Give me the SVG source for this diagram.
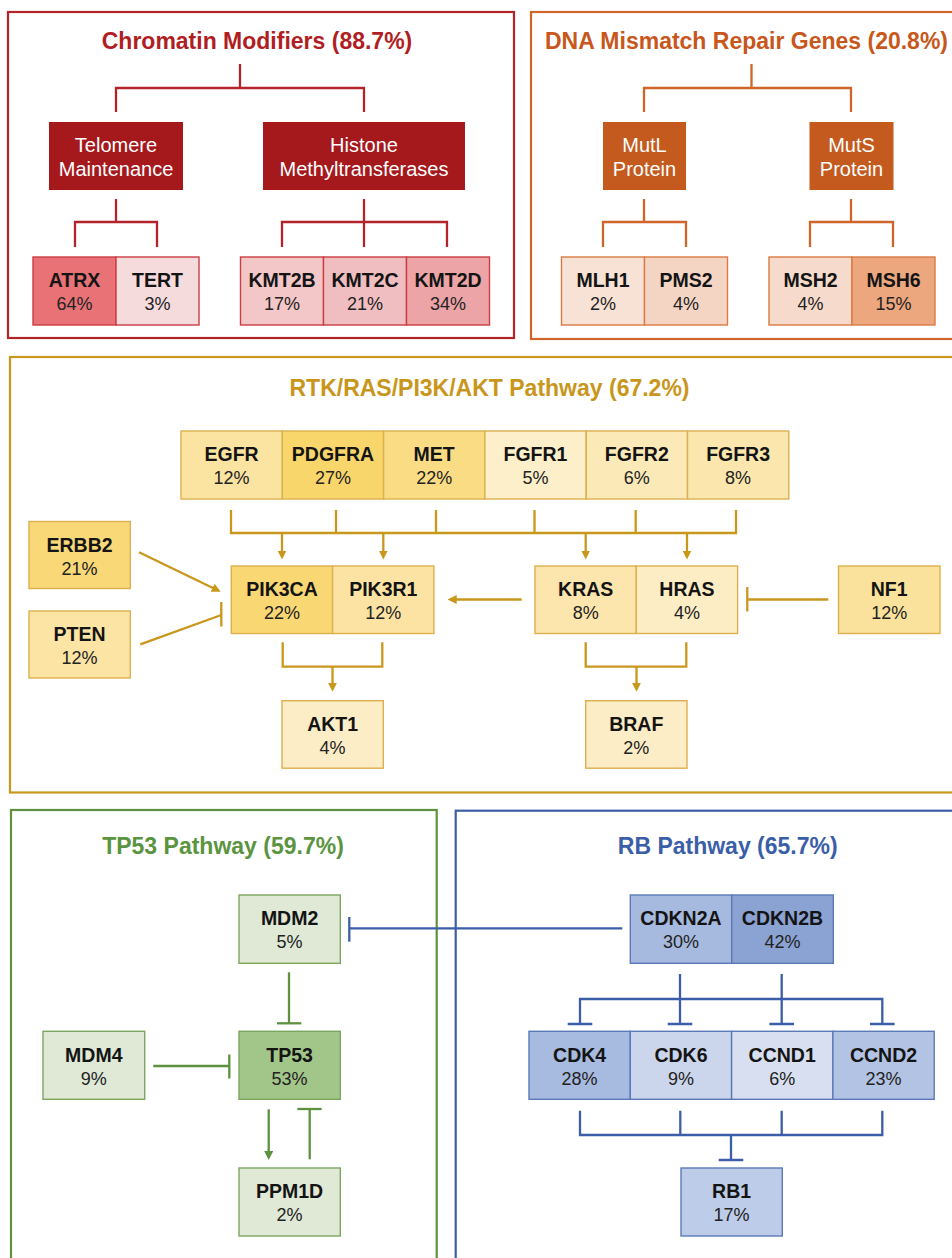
<svg xmlns="http://www.w3.org/2000/svg" width="952" height="1258" viewBox="0 0 952 1258">
<style>
text { font-family: "Liberation Sans", Arial, sans-serif; text-anchor: middle; }
.title { font-size: 23px; font-weight: bold; }
.gn { font-size: 19.5px; font-weight: bold; fill: #141414; }
.pc { font-size: 18px; fill: #222; }
.cat { font-size: 20px; fill: #fff; }
.frame { fill: none; stroke-width: 2.2; }
.bx { stroke-width: 1.4; }
.ln { fill: none; stroke-width: 2.3; }
.red { stroke: #b3232a; }
.org { stroke: #d0652a; }
.gld { stroke: #c9971c; }
.grn { stroke: #5d913f; }
.blu { stroke: #3c5ea8; }
.bred { stroke: #cb3d43; }
.borg { stroke: #da7b42; }
.bgld { stroke: #ddb04e; }
.bgrn { stroke: #7ba65f; }
.bblu { stroke: #5b79b9; }
</style>
<defs>
<marker id="arrGold" markerUnits="userSpaceOnUse" viewBox="0 0 9 9" refX="1" refY="4.5" markerWidth="9" markerHeight="9" orient="auto">
<path d="M0,0 L9,4.5 L0,9 z" fill="#c9971c"/>
</marker>
<marker id="arrGreen" markerUnits="userSpaceOnUse" viewBox="0 0 9 9" refX="1" refY="4.5" markerWidth="9" markerHeight="9" orient="auto">
<path d="M0,0 L9,4.5 L0,9 z" fill="#5d913f"/>
</marker>
</defs>
<rect width="952" height="1258" fill="#fff"/>

<!-- Frames -->
<g id="frames">
<rect class="frame red" x="8" y="12" width="506" height="326"/>
<rect class="frame org" x="531" y="12" width="440" height="327"/>
<rect class="frame gld" x="10" y="357" width="970" height="435.5"/>
<rect class="frame grn" x="11" y="810" width="425.7" height="470"/>
<rect class="frame blu" x="455.7" y="810.7" width="520" height="470"/>
<text class="title" x="257" y="48.5" fill="#b01e23">Chromatin Modifiers (88.7%)</text>
<text class="title" x="746.5" y="48.5" fill="#c8571b">DNA Mismatch Repair Genes (20.8%)</text>
<text class="title" x="489.5" y="396" fill="#c9961c">RTK/RAS/PI3K/AKT Pathway (67.2%)</text>
<text class="title" x="223" y="853.5" fill="#5a9440">TP53 Pathway (59.7%)</text>
<text class="title" x="727.7" y="853.5" fill="#3b5ea8">RB Pathway (65.7%)</text>
</g>

<!-- Connectors -->
<g id="connectors">
<path class="ln red" d="M240,64 V88 M116,112 V88 H364 V112"/>
<path class="ln red" d="M116,199 V222 M75,247 V222 H157 V247"/>
<path class="ln red" d="M364,199 V247 M282,247 V222 H447 V247"/>
<path class="ln org" d="M751.5,64 V88 M644,112 V88 H851 V112"/>
<path class="ln org" d="M644,199 V222 M603,247 V222 H686 V247"/>
<path class="ln org" d="M851,199 V222 M810,247 V222 H893 V247"/>

<path class="ln gld" d="M231,510 V533 H736 V510 M336,510 V533 M436,510 V533 M534.5,510 V533 M635.7,510 V533"/>
<line class="ln gld" x1="282" y1="533" x2="282" y2="551.5" marker-end="url(#arrGold)"/>
<line class="ln gld" x1="383.3" y1="533" x2="383.3" y2="551.5" marker-end="url(#arrGold)"/>
<line class="ln gld" x1="585.7" y1="533" x2="585.7" y2="551.5" marker-end="url(#arrGold)"/>
<line class="ln gld" x1="687" y1="533" x2="687" y2="551.5" marker-end="url(#arrGold)"/>
<line class="ln gld" x1="139" y1="552.3" x2="213.5" y2="588.2" marker-end="url(#arrGold)"/>
<line class="ln gld" x1="140.3" y1="644.3" x2="221.3" y2="615"/>
<line class="ln gld" x1="221.3" y1="602" x2="221.3" y2="626.5"/>
<line class="ln gld" x1="521.7" y1="599.5" x2="455.7" y2="599.5" marker-end="url(#arrGold)"/>
<line class="ln gld" x1="828.3" y1="599.5" x2="747.3" y2="599.5"/>
<line class="ln gld" x1="747.3" y1="587" x2="747.3" y2="611.5"/>
<path class="ln gld" d="M282.7,642.3 V666.7 H382.3 V642.3"/>
<line class="ln gld" x1="332.5" y1="666.7" x2="332.5" y2="683.7" marker-end="url(#arrGold)"/>
<path class="ln gld" d="M585.7,642.3 V666.7 H686.3 V642.3"/>
<line class="ln gld" x1="636.5" y1="666.7" x2="636.5" y2="683.7" marker-end="url(#arrGold)"/>

<line class="ln grn" x1="289" y1="972.3" x2="289" y2="1023.3"/>
<line class="ln grn" x1="277" y1="1023.3" x2="301.3" y2="1023.3"/>
<line class="ln grn" x1="153.3" y1="1066" x2="229.3" y2="1066"/>
<line class="ln grn" x1="229.3" y1="1054.5" x2="229.3" y2="1078.5"/>
<line class="ln grn" x1="268.7" y1="1109.3" x2="268.7" y2="1152" marker-end="url(#arrGreen)"/>
<line class="ln grn" x1="309.7" y1="1159.3" x2="309.7" y2="1109"/>
<line class="ln grn" x1="297.3" y1="1109" x2="321.7" y2="1109"/>

<line class="ln blu" x1="622.3" y1="928.3" x2="349.3" y2="928.3"/>
<line class="ln blu" x1="349.3" y1="917" x2="349.3" y2="941.7"/>
<path class="ln blu" d="M680,974 V1024 M781.7,974 V1024 M580,1024 V999 H882.3 V1024"/>
<path class="ln blu" d="M567.7,1024 H592.3 M667.7,1024 H692.3 M769.4,1024 H794 M870,1024 H894.6"/>
<path class="ln blu" d="M580,1110.7 V1135 H882.3 V1110.7 M680.3,1110.7 V1135 M781.7,1110.7 V1135 M731,1135 V1160 M718.7,1160 H743.3"/>
</g>

<!-- Chromatin modifiers nodes -->
<g id="telomere"><rect x="49" y="122" width="134" height="68" fill="#a5191d"/><text class="cat" x="116" y="152">Telomere</text><text class="cat" x="116" y="176">Maintenance</text></g>
<g id="histone"><rect x="263" y="122" width="202" height="68" fill="#a5191d"/><text class="cat" x="364" y="152">Histone</text><text class="cat" x="364" y="176">Methyltransferases</text></g>
<g id="ATRX"><rect class="bx bred" x="33" y="257" width="83" height="68" fill="#e97277"/><text class="gn" x="74.5" y="287">ATRX</text><text class="pc" x="74.5" y="310">64%</text></g>
<g id="TERT"><rect class="bx bred" x="116" y="257" width="83" height="68" fill="#f6dbdc"/><text class="gn" x="157.5" y="287">TERT</text><text class="pc" x="157.5" y="310">3%</text></g>
<g id="KMT2B"><rect class="bx bred" x="240.5" y="257" width="83" height="68" fill="#f3c6c7"/><text class="gn" x="282" y="287">KMT2B</text><text class="pc" x="282" y="310">17%</text></g>
<g id="KMT2C"><rect class="bx bred" x="323.5" y="257" width="83" height="68" fill="#f0bec0"/><text class="gn" x="365" y="287">KMT2C</text><text class="pc" x="365" y="310">21%</text></g>
<g id="KMT2D"><rect class="bx bred" x="406.5" y="257" width="83" height="68" fill="#eca4a7"/><text class="gn" x="448" y="287">KMT2D</text><text class="pc" x="448" y="310">34%</text></g>

<!-- DNA mismatch repair nodes -->
<g id="mutl"><rect x="603" y="122" width="83" height="68" fill="#c45a1d"/><text class="cat" x="644.5" y="152">MutL</text><text class="cat" x="644.5" y="176">Protein</text></g>
<g id="muts"><rect x="809.5" y="122" width="84" height="68" fill="#c45a1d"/><text class="cat" x="851.5" y="152">MutS</text><text class="cat" x="851.5" y="176">Protein</text></g>
<g id="MLH1"><rect class="bx borg" x="561.5" y="257" width="83" height="68" fill="#f8e2d5"/><text class="gn" x="603" y="287">MLH1</text><text class="pc" x="603" y="310">2%</text></g>
<g id="PMS2"><rect class="bx borg" x="644.5" y="257" width="83" height="68" fill="#f4d5c4"/><text class="gn" x="686" y="287">PMS2</text><text class="pc" x="686" y="310">4%</text></g>
<g id="MSH2"><rect class="bx borg" x="769" y="257" width="83" height="68" fill="#f6dbcc"/><text class="gn" x="810.5" y="287">MSH2</text><text class="pc" x="810.5" y="310">4%</text></g>
<g id="MSH6"><rect class="bx borg" x="852" y="257" width="83" height="68" fill="#eca77e"/><text class="gn" x="893.5" y="287">MSH6</text><text class="pc" x="893.5" y="310">15%</text></g>

<!-- RTK nodes -->
<g id="EGFR"><rect class="bx bgld" x="181" y="431" width="101.3" height="68" fill="#fbe3a1"/><text class="gn" x="231.6" y="461">EGFR</text><text class="pc" x="231.6" y="484">12%</text></g>
<g id="PDGFRA"><rect class="bx bgld" x="282.3" y="431" width="101.3" height="68" fill="#f9d66b"/><text class="gn" x="333" y="461">PDGFRA</text><text class="pc" x="333" y="484">27%</text></g>
<g id="MET"><rect class="bx bgld" x="383.6" y="431" width="101.3" height="68" fill="#fadc84"/><text class="gn" x="434.2" y="461">MET</text><text class="pc" x="434.2" y="484">22%</text></g>
<g id="FGFR1"><rect class="bx bgld" x="484.9" y="431" width="101.3" height="68" fill="#fdefc9"/><text class="gn" x="535.5" y="461">FGFR1</text><text class="pc" x="535.5" y="484">5%</text></g>
<g id="FGFR2"><rect class="bx bgld" x="586.2" y="431" width="101.3" height="68" fill="#fce9b8"/><text class="gn" x="636.8" y="461">FGFR2</text><text class="pc" x="636.8" y="484">6%</text></g>
<g id="FGFR3"><rect class="bx bgld" x="687.5" y="431" width="101.3" height="68" fill="#fbe6ae"/><text class="gn" x="738.1" y="461">FGFR3</text><text class="pc" x="738.1" y="484">8%</text></g>
<g id="ERBB2"><rect class="bx bgld" x="29" y="521.5" width="101.3" height="67" fill="#f9d878"/><text class="gn" x="79.6" y="551.5">ERBB2</text><text class="pc" x="79.6" y="574.5">21%</text></g>
<g id="PTEN"><rect class="bx bgld" x="29" y="611" width="101.3" height="67" fill="#fce4a4"/><text class="gn" x="79.6" y="641">PTEN</text><text class="pc" x="79.6" y="664">12%</text></g>
<g id="PIK3CA"><rect class="bx bgld" x="231.3" y="566" width="101.3" height="67.5" fill="#f9d773"/><text class="gn" x="282" y="596">PIK3CA</text><text class="pc" x="282" y="619">22%</text></g>
<g id="PIK3R1"><rect class="bx bgld" x="332.6" y="566" width="101.3" height="67.5" fill="#fce3a3"/><text class="gn" x="383.3" y="596">PIK3R1</text><text class="pc" x="383.3" y="619">12%</text></g>
<g id="KRAS"><rect class="bx bgld" x="535" y="566" width="101.3" height="67.5" fill="#fce6ae"/><text class="gn" x="585.7" y="596">KRAS</text><text class="pc" x="585.7" y="619">8%</text></g>
<g id="HRAS"><rect class="bx bgld" x="636.3" y="566" width="101.3" height="67.5" fill="#fdedc5"/><text class="gn" x="687" y="596">HRAS</text><text class="pc" x="687" y="619">4%</text></g>
<g id="NF1"><rect class="bx bgld" x="838.5" y="566" width="101.5" height="67.5" fill="#fae29c"/><text class="gn" x="889.2" y="596">NF1</text><text class="pc" x="889.2" y="619">12%</text></g>
<g id="AKT1"><rect class="bx bgld" x="282" y="700.7" width="101.3" height="67.5" fill="#fdedc6"/><text class="gn" x="332.6" y="730.7">AKT1</text><text class="pc" x="332.6" y="753.7">4%</text></g>
<g id="BRAF"><rect class="bx bgld" x="585.7" y="700.7" width="101.3" height="67.5" fill="#fdedc6"/><text class="gn" x="636.3" y="730.7">BRAF</text><text class="pc" x="636.3" y="753.7">2%</text></g>

<!-- TP53 nodes -->
<g id="MDM2"><rect class="bx bgrn" x="239" y="895" width="101.3" height="68.3" fill="#dfe9d6"/><text class="gn" x="289.6" y="925">MDM2</text><text class="pc" x="289.6" y="948">5%</text></g>
<g id="MDM4"><rect class="bx bgrn" x="43" y="1031.3" width="101.7" height="68" fill="#dfe9d6"/><text class="gn" x="93.8" y="1061.5">MDM4</text><text class="pc" x="93.8" y="1084.5">9%</text></g>
<g id="TP53"><rect class="bx bgrn" x="239" y="1031.3" width="101.3" height="68" fill="#a2c689"/><text class="gn" x="289.6" y="1061.5">TP53</text><text class="pc" x="289.6" y="1084.5">53%</text></g>
<g id="PPM1D"><rect class="bx bgrn" x="239" y="1168" width="101.3" height="68" fill="#dfe9d6"/><text class="gn" x="289.6" y="1198">PPM1D</text><text class="pc" x="289.6" y="1221">2%</text></g>

<!-- RB nodes -->
<g id="CDKN2A"><rect class="bx bblu" x="630.3" y="895" width="101.4" height="68.3" fill="#a6b9df"/><text class="gn" x="681" y="925">CDKN2A</text><text class="pc" x="681" y="948">30%</text></g>
<g id="CDKN2B"><rect class="bx bblu" x="731.7" y="895" width="101.6" height="68.3" fill="#8ba3d3"/><text class="gn" x="782.5" y="925">CDKN2B</text><text class="pc" x="782.5" y="948">42%</text></g>
<g id="CDK4"><rect class="bx bblu" x="529" y="1031.3" width="101.3" height="68" fill="#a7badf"/><text class="gn" x="579.6" y="1061.5">CDK4</text><text class="pc" x="579.6" y="1084.5">28%</text></g>
<g id="CDK6"><rect class="bx bblu" x="630.3" y="1031.3" width="101.3" height="68" fill="#cbd5eb"/><text class="gn" x="681" y="1061.5">CDK6</text><text class="pc" x="681" y="1084.5">9%</text></g>
<g id="CCND1"><rect class="bx bblu" x="731.6" y="1031.3" width="101.3" height="68" fill="#d7dff0"/><text class="gn" x="782.2" y="1061.5">CCND1</text><text class="pc" x="782.2" y="1084.5">6%</text></g>
<g id="CCND2"><rect class="bx bblu" x="832.9" y="1031.3" width="101.3" height="68" fill="#b2c3e4"/><text class="gn" x="883.5" y="1061.5">CCND2</text><text class="pc" x="883.5" y="1084.5">23%</text></g>
<g id="RB1"><rect class="bx bblu" x="681" y="1168" width="101.3" height="68" fill="#bdcce8"/><text class="gn" x="731.6" y="1198">RB1</text><text class="pc" x="731.6" y="1221">17%</text></g>
</svg>
